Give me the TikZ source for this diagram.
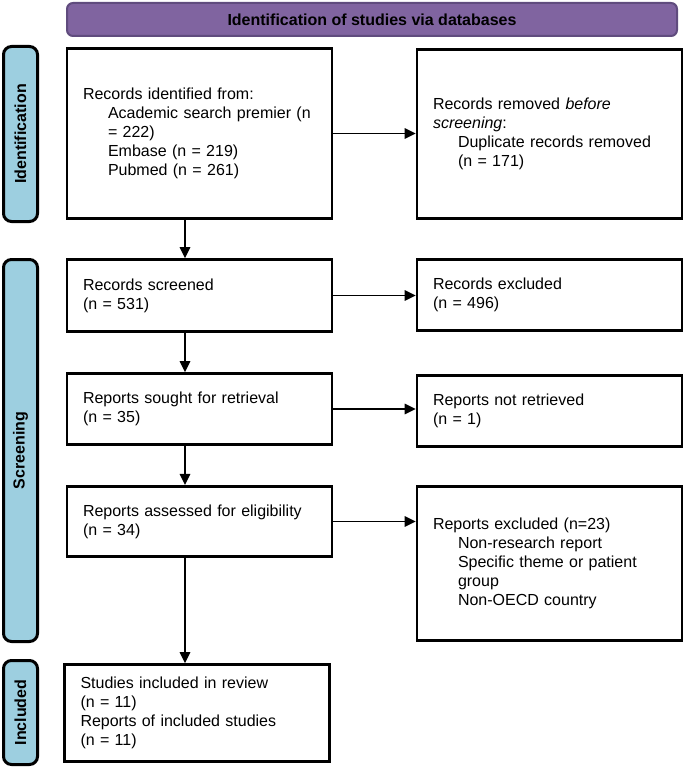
\documentclass[tikz,border=0pt]{standalone}
\usepackage{fontspec}
\setmainfont{Liberation Sans}
\usetikzlibrary{arrows.meta}
\definecolor{headpurple}{RGB}{128,100,160}
\definecolor{headedge}{RGB}{96,76,126}
\definecolor{barblue}{RGB}{157,207,224}

\begin{document}
\begin{tikzpicture}[x=1pt,y=-1pt,
        >={Triangle[length=11pt,width=10.5pt]},
        box/.style={draw,line width=2.6pt,text width=233pt,inner xsep=16pt,align=left,font=\fontsize{16}{19}\selectfont},
        bar/.style={draw,line width=3pt,fill=barblue,rounded corners=8pt,rotate=90,minimum height=34pt,font=\bfseries\fontsize{16}{19}\selectfont},
        arr/.style={->,line width=1.4pt}]
            \useasboundingbox (0,0) rectangle (685,767);
            % header and phase bars
            \node[draw=headedge,line width=2pt,fill=headpurple,rounded corners=6pt,minimum width=610pt,minimum height=33pt,font=\bfseries\fontsize{16}{19}\selectfont] (head) at (372,19.5) {Identification of studies via databases};
            \node[bar,minimum width=175pt] (idbar) at (20.5,134) {Identification};
            \node[bar,minimum width=382pt] (scrbar) at (20.5,450.5) {Screening};
            \node[bar,minimum width=104pt] (incbar) at (20.5,712.5) {Included};
            % boxes
            \node[box,minimum height=170pt] (ident) at (199.5,133.5) {Records identified from:\\\hspace*{25pt}Academic search premier (n\\\hspace*{25pt}= 222)\\\hspace*{25pt}Embase (n = 219)\\\hspace*{25pt}Pubmed (n = 261)};
            \node[box,minimum height=169pt] (dupl) at (549.5,134) {Records removed \textit{before}\\\textit{screening}:\\\hspace*{25pt}Duplicate records removed\\\hspace*{25pt}(n = 171)};
            \node[box,minimum height=72pt] (screen) at (199.5,295.5) {Records screened\\(n = 531)};
            \node[box,minimum height=71pt] (recexcl) at (549.5,295) {Records excluded\\(n = 496)};
            \node[box,minimum height=71pt] (sought) at (199.5,409) {Reports sought for retrieval\\(n = 35)};
            \node[box,minimum height=71pt] (notret) at (549.5,411) {Reports not retrieved\\(n = 1)};
            \node[box,minimum height=70.5pt] (assess) at (199.5,521.5) {Reports assessed for eligibility\\(n = 34)};
            \node[box,minimum height=154.5pt] (repexcl) at (549.5,563.5) {Reports excluded (n=23)\\\hspace*{25pt}Non-research report\\\hspace*{25pt}Specific theme or patient\\\hspace*{25pt}group\\\hspace*{25pt}Non-OECD country};
            \node[box,minimum height=97pt] (incl) at (197,713) {Studies included in review\\(n = 11)\\Reports of included studies\\(n = 11)};
            % arrows
            \coordinate (spine) at (185,0);
            \draw[arr] (ident.east) -- (ident.east -| dupl.west);
            \draw[arr] (screen.east) -- (screen.east -| recexcl.west);
            \draw[arr] (sought.east) -- (sought.east -| notret.west);
            \draw[arr] (assess.east) -- (assess.east -| repexcl.west);
            \draw[arr] (ident.south -| spine) -- (screen.north -| spine);
            \draw[arr] (screen.south -| spine) -- (sought.north -| spine);
            \draw[arr] (sought.south -| spine) -- (assess.north -| spine);
            \draw[arr] (assess.south -| spine) -- (incl.north -| spine);
        \end{tikzpicture}
\end{document}
